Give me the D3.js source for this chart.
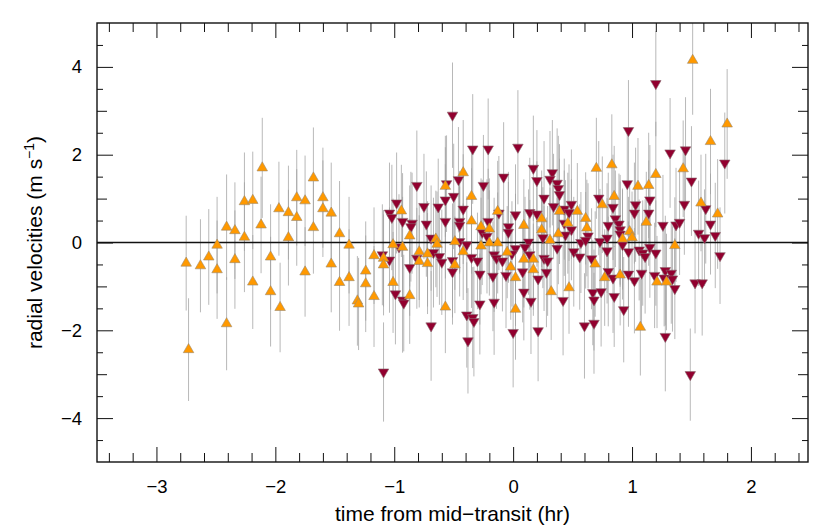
<!DOCTYPE html>
<html><head><meta charset="utf-8">
<script src="https://cdn.jsdelivr.net/npm/d3@7"></script>
<style>
body{margin:0;background:#fff;}
svg text{font-family:"Liberation Sans",Arial,Helvetica,sans-serif;fill:#000;}
</style>
</head><body>
<svg id="chart" width="830" height="527"></svg>
<script>
// ---- data (time from mid-transit in hr, RV in m/s, 1-sigma error) ----
const orangeT = [-2.75,-2.73,-2.63,-2.56,-2.49,-2.49,-2.41,-2.41,-2.34,-2.34,-2.26,-2.26,-2.19,-2.19,-2.11,-2.12,-2.04,-2.04,-1.97,-1.96,-1.89,-1.89,-1.82,-1.82,-1.75,-1.75,-1.68,-1.68,-1.60,-1.60,-1.53,-1.53,-1.46,-1.46,-1.38,-1.38,-1.31,-1.30,-1.24,-1.24,-1.17,-1.17,
-0.42,-0.57,-0.35,-0.94,-0.13,0.24,-0.35,-0.27,-0.20,0.09,0.24,-0.87,-0.65,-0.64,-0.49,-1.01,-0.93,-0.27,-0.20,-0.13,-0.42,-0.05,-1.09,-1.09,-0.79,-0.72,-0.79,-0.72,-0.49,0.09,0.17,-0.02,0.17,0.02,-1.01,-0.87,-0.57,
0.70,0.75,0.39,0.54,0.46,0.61,0.62,0.38,0.31,
0.85,1.05,1.14,1.58,1.72,1.12,0.98,1.00,0.92,1.36,0.69,0.77,0.90,1.21,1.29,
1.51,1.80,1.66,0.83,1.43,1.20,
1.07,
0.02,0.32,0.47];
const orangeV = [-0.47,-2.44,-0.53,-0.33,-0.06,-0.62,0.35,-1.85,0.27,-0.39,0.93,0.12,0.96,-0.90,1.70,0.40,-0.33,-1.12,0.77,-1.48,0.68,0.11,1.02,0.57,0.95,-0.67,1.47,0.34,1.02,0.77,0.67,-0.49,0.20,-0.91,-0.06,-0.80,-1.33,-1.40,-0.65,-0.94,-0.30,-1.23,
1.59,1.28,1.05,0.72,0.71,0.54,0.49,0.36,0.31,0.39,0.29,0.15,0.08,-0.04,0.02,-0.05,-0.11,-0.08,-0.01,-0.01,-0.21,-0.22,-0.36,-0.51,-0.21,-0.26,-0.43,-0.48,-0.51,-0.38,-0.38,-0.56,-0.62,-0.80,-0.91,-1.21,-1.47,
1.69,0.86,0.71,0.71,0.44,0.55,0.33,0.20,0.05,
1.05,1.28,1.30,0.90,0.65,0.46,0.25,0.11,0.08,-0.07,-0.49,-0.80,-0.74,-0.90,-0.90,
4.15,2.70,2.30,1.77,1.68,1.55,
-1.93,
-1.52,-1.12,-1.03];
const orangeErr = [1.08,1.17,1.06,1.09,1.10,1.12,1.20,1.06,1.10,1.12,1.12,1.25,1.11,1.07,1.14,1.10,1.20,1.25,1.07,1.02,1.07,1.09,1.09,1.10,1.03,1.02,1.15,1.05,1.14,1.10,1.15,1.10,1.20,1.10,1.10,1.10,1.02,1.05,1.13,1.10,1.10,1.15,
1.20,1.15,1.10,1.05,1.15,1.10,1.20,1.10,1.15,1.05,1.10,1.15,1.10,1.20,1.10,1.05,1.15,1.10,1.20,1.15,1.10,1.05,1.10,1.15,1.10,1.20,1.05,1.15,1.10,1.10,1.15,1.20,1.05,1.10,1.15,1.10,1.05,
1.15,1.10,1.20,1.10,1.15,1.05,1.10,1.15,1.20,
1.15,1.10,1.20,1.10,1.25,1.15,1.10,1.05,1.15,1.10,1.20,1.10,1.15,1.05,1.10,
1.24,1.25,1.20,1.15,1.10,1.20,
1.10,
1.15,1.10,1.05];

const redT = [-0.51,-0.34,-0.21,-0.46,-0.56,-0.81,-0.25,-0.50,0.26,-0.98,-0.75,-0.63,-0.42,-1.04,-1.02,-0.12,0.02,0.14,0.20,-0.93,-0.85,-0.86,-0.73,-0.57,-0.45,-0.45,-0.21,-0.04,-0.04,-0.26,-0.22,0.25,-0.69,-0.45,-0.39,0.13,0.10,0.02,-0.96,-1.10,-0.67,-0.62,-0.60,-0.16,-0.14,-0.01,0.14,-0.35,-0.30,0.26,0.29,-0.81,-1.04,-0.51,-0.87,-0.51,-0.28,-0.17,-0.06,0.08,0.21,0.28,-0.09,-0.57,
-0.99,-0.93,-0.92,-0.69,-0.39,-0.34,-0.33,-0.38,-0.28,-1.09,
0.04,0.17,-0.08,0.20,0.33,0.31,0.37,0.38,0.39,0.72,0.34,0.43,0.49,0.47,0.43,0.49,0.44,0.63,0.57,0.61,0.73,
1.15,1.44,0.84,1.03,1.02,1.14,1.62,0.86,0.80,0.89,0.90,0.90,1.26,1.37,1.40,1.66,0.79,1.56,1.61,1.70,0.37,0.51,0.56,0.66,0.79,0.97,1.06,1.09,1.11,1.15,1.20,1.74,0.80,0.97,1.08,1.19,1.28,1.33,1.34,1.27,0.84,1.02,1.53,1.59,0.92,
1.20,0.97,1.32,1.45,1.78,0.96,1.50,
0.85,0.93,1.28,1.49,1.36,
-0.16,0.00,0.21,0.15,0.09,0.42,0.60,0.68,0.67,0.68,0.74];
const redV = [2.90,2.13,2.13,1.43,1.34,1.30,1.30,1.05,1.01,0.90,0.82,0.81,0.76,0.67,0.57,0.67,0.63,0.68,0.65,0.48,0.44,0.36,0.42,0.48,0.48,0.39,0.48,0.36,0.23,0.23,0.14,0.11,0.10,0.02,-0.05,0.01,-0.11,-0.14,-0.10,-0.28,-0.23,-0.32,-0.45,-0.28,-0.36,-0.26,-0.28,-0.34,-0.42,-0.36,-0.42,-0.36,-0.40,-0.41,-0.57,-0.67,-0.72,-0.77,-0.75,-0.67,-0.83,-0.68,-0.42,0.97,
-1.17,-1.31,-1.38,-1.90,-1.65,-1.71,-1.80,-2.24,-1.40,-2.95,
2.17,1.69,1.49,1.41,1.59,1.44,1.35,1.23,1.09,1.01,0.82,0.76,0.87,0.68,0.44,0.29,0.17,0.15,0.00,0.05,0.02,
0.97,0.87,0.80,0.86,0.67,0.67,0.77,0.54,0.39,0.42,0.29,0.19,0.39,0.40,0.46,0.42,0.10,0.21,0.11,0.16,-0.13,-0.21,-0.33,-0.37,-0.19,-0.21,-0.17,-0.24,-0.32,-0.11,-0.24,-0.30,-0.66,-0.72,-0.70,-0.75,-0.64,-0.70,-0.83,-0.81,-0.81,-0.87,-0.92,-0.92,-0.05,
3.62,2.55,2.04,2.11,1.81,1.34,1.40,
-1.23,-1.53,-2.14,-3.01,-1.05,
-1.36,-2.05,-2.01,-1.34,-1.13,-1.32,-1.90,-1.84,-1.14,-1.31,-1.12];
const redErr = [1.20,1.25,1.15,1.20,1.10,1.25,1.15,1.20,1.30,1.15,
1.20,1.10,1.25,1.15,1.20,1.30,1.15,1.25,1.20,1.10,
1.15,1.25,1.20,1.30,1.15,1.10,1.20,1.25,1.15,1.20,
1.30,1.15,1.20,1.25,1.10,1.20,1.15,1.25,1.20,1.15,
1.25,1.10,1.20,1.30,1.15,1.20,1.25,1.15,1.10,1.20,
1.25,1.15,1.20,1.30,1.10,1.20,1.15,1.25,1.20,1.15,
1.20,1.25,1.15,1.20,1.15,1.20,1.10,1.25,1.20,1.15,
1.25,1.20,1.15,1.13,1.30,1.20,1.25,1.15,1.20,1.10,
1.25,1.20,1.15,1.30,1.20,1.15,1.25,1.10,1.20,1.15,
1.25,1.20,1.15,1.10,1.20,1.25,1.15,1.20,1.30,1.15,
1.20,1.25,1.10,1.20,1.15,1.25,1.20,1.15,1.30,1.20,
1.15,1.25,1.20,1.10,1.20,1.15,1.25,1.20,1.15,1.20,
1.25,1.15,1.20,1.30,1.15,1.20,1.10,1.25,1.20,1.15,
1.20,1.25,1.15,1.20,1.10,1.25,1.20,1.15,1.20,1.25,
1.20,1.15,1.25,1.20,1.15,1.20,1.25,1.15,1.20,1.25,
1.05,1.15,1.20,1.25,1.15,1.20,1.10,1.25,1.20,1.15,
1.20,1.15,1.25];

const xTickLabels = [-3,-2,-1,0,1,2];
const yTickLabels = [-4,-2,0,2,4];
const xTitle = "time from mid\u2212transit (hr)";
const yTitle = "radial velocities (m s";

// ---- layout ----
const W = 830, H = 527;
const L = 97, R = 808, T = 23, B = 462;
const x = d3.scaleLinear().domain([-3.5, 2.48]).range([L, R]);
const y = d3.scaleLinear().domain([-5, 5]).range([B, T]);

const svg = d3.select("#chart");
svg.append("defs").append("clipPath").attr("id","clip")
  .append("rect").attr("x",L).attr("y",T).attr("width",R-L).attr("height",B-T);

const orange = orangeT.map((t,i)=>({t, v: orangeV[i], e: orangeErr[i]}));
const red = redT.map((t,i)=>({t, v: redV[i], e: redErr[i]}));

const plot = svg.append("g").attr("clip-path","url(#clip)");

// error bars
const bars = plot.append("g").attr("stroke","#a0a0a0").attr("stroke-width",1).attr("stroke-opacity",0.75);
bars.selectAll("line.o").data(orange).join("line").attr("class","o")
  .attr("x1",d=>x(d.t)).attr("x2",d=>x(d.t))
  .attr("y1",d=>y(d.v-d.e)).attr("y2",d=>y(d.v+d.e));
bars.selectAll("line.r").data(red).join("line").attr("class","r")
  .attr("x1",d=>x(d.t)).attr("x2",d=>x(d.t))
  .attr("y1",d=>y(d.v-d.e)).attr("y2",d=>y(d.v+d.e));

// zero line
plot.append("line").attr("x1",x(-3.5)).attr("x2",x(2.48)).attr("y1",y(0)).attr("y2",y(0))
  .attr("stroke","#111").attr("stroke-width",1.5);

const tri = d3.symbol(d3.symbolTriangle).size(48);
plot.append("g").selectAll("path").data(red).join("path")
  .attr("d",tri)
  .attr("transform",d=>`translate(${x(d.t)},${y(d.v)}) rotate(180)`)
  .attr("fill","#92002f").attr("stroke","#8a6a70").attr("stroke-width",0.6);
plot.append("g").selectAll("path").data(orange).join("path")
  .attr("d",tri)
  .attr("transform",d=>`translate(${x(d.t)},${y(d.v)})`)
  .attr("fill","#ff9900").attr("stroke","#9a8a70").attr("stroke-width",0.6);

// ---- axes ----
const xMinor = d3.range(-34, 25, 2).map(d=>d/10).filter(d=>Math.abs(d-Math.round(d))>1e-6);
const yHalf = d3.range(-9, 10, 2).map(d=>d/2);
const yOdd = [-3,-1,1,3];

function styleAxis(g){ g.select(".domain").remove(); g.selectAll(".tick line").attr("stroke","#111"); g.selectAll("text").style("font-size","18.5px"); }

svg.append("g").attr("transform",`translate(0,${B})`)
  .call(d3.axisBottom(x).tickValues(xMinor).tickSize(-9).tickFormat("")).call(styleAxis);
svg.append("g").attr("transform",`translate(0,${B})`)
  .call(d3.axisBottom(x).tickValues(xTickLabels).tickSize(-15).tickPadding(18).tickFormat(d3.format("d"))).call(styleAxis);
svg.append("g").attr("transform",`translate(0,${T})`)
  .call(d3.axisTop(x).tickValues(xMinor).tickSize(-9).tickFormat("")).call(styleAxis);
svg.append("g").attr("transform",`translate(0,${T})`)
  .call(d3.axisTop(x).tickValues(xTickLabels).tickSize(-15).tickFormat("")).call(styleAxis);

svg.append("g").attr("transform",`translate(${L},0)`)
  .call(d3.axisLeft(y).tickValues(yHalf).tickSize(-6).tickFormat("")).call(styleAxis);
svg.append("g").attr("transform",`translate(${L},0)`)
  .call(d3.axisLeft(y).tickValues(yOdd).tickSize(-10).tickFormat("")).call(styleAxis);
svg.append("g").attr("transform",`translate(${L},0)`)
  .call(d3.axisLeft(y).tickValues(yTickLabels).tickSize(-16).tickPadding(15).tickFormat(d3.format("d"))).call(styleAxis);
svg.append("g").attr("transform",`translate(${R},0)`)
  .call(d3.axisRight(y).tickValues(yHalf).tickSize(-6).tickFormat("")).call(styleAxis);
svg.append("g").attr("transform",`translate(${R},0)`)
  .call(d3.axisRight(y).tickValues(yOdd).tickSize(-10).tickFormat("")).call(styleAxis);
svg.append("g").attr("transform",`translate(${R},0)`)
  .call(d3.axisRight(y).tickValues(yTickLabels).tickSize(-16).tickFormat("")).call(styleAxis);

// frame
svg.append("rect").attr("x",L).attr("y",T).attr("width",R-L).attr("height",B-T)
  .attr("fill","none").attr("stroke","#111").attr("stroke-width",1.4);

// titles
svg.append("text").attr("x",(L+R)/2).attr("y",521).attr("text-anchor","middle")
  .style("font-size","21px").text(xTitle);
const yt = svg.append("text").attr("transform",`translate(42,${(T+B)/2}) rotate(-90)`)
  .attr("text-anchor","middle").style("font-size","21px");
yt.append("tspan").text(yTitle);
yt.append("tspan").attr("dy",-8).style("font-size","14px").text("\u22121");
yt.append("tspan").attr("dy",8).text(")");
</script>
</body></html>
